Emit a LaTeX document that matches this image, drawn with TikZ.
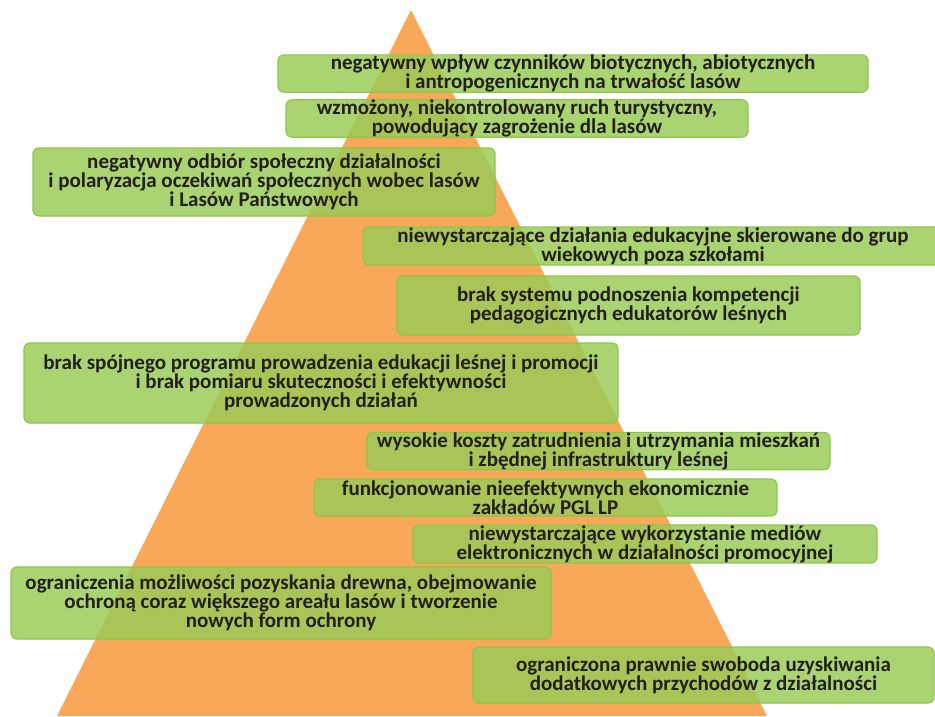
\documentclass[tikz,border=0pt]{standalone}
\usepackage{fontspec}
\setmainfont{Carlito}
\definecolor{pyramid}{RGB}{249,167,88}
\definecolor{leaf}{RGB}{155,203,88}
\definecolor{leafedge}{RGB}{142,198,72}
\definecolor{ink}{RGB}{35,31,32}
\begin{document}
\begin{tikzpicture}[x=1pt, y=-1pt]

		% Define custom box style with semi-transparent green fill
		\tikzstyle{threat} = [rectangle, rounded corners=6pt, draw=leafedge, line width=1.2pt,
		fill=leaf, fill opacity=0.85, text opacity=1, text=ink, align=center,
		inner sep=0pt, font=\fontsize{21}{19}\selectfont\bfseries]

		\useasboundingbox (0,0) rectangle (935,716);

		% Pyramid in the background
		\fill[pyramid] (411,10) -- (767,716) -- (57,716) -- cycle;

		% Boxes from top to bottom
		\node[threat, minimum width=590pt, minimum height=37pt] (biotic) at (573,73.5)
			{negatywny wpływ czynników biotycznych, abiotycznych\\i antropogenicznych na trwałość lasów};
		\node[threat, minimum width=462pt, minimum height=37pt] (tourism) at (517,118.5)
			{wzmożony, niekontrolowany ruch turystyczny,\\powodujący zagrożenie dla lasów};
		\node[threat, minimum width=462pt, minimum height=68pt] (opinion) at (264,182)
			{negatywny odbiór społeczny działalności\\i polaryzacja oczekiwań społecznych wobec lasów\\i Lasów Państwowych};
		\node[threat, minimum width=580pt, minimum height=38pt] (agegroups) at (653,246)
			{niewystarczające działania edukacyjne skierowane do grup\\wiekowych poza szkołami};
		\node[threat, minimum width=463pt, minimum height=59pt] (educators) at (628.5,305.5)
			{brak systemu podnoszenia kompetencji\\pedagogicznych edukatorów leśnych};
		\node[threat, minimum width=594pt, minimum height=80pt] (program) at (321,383)
			{brak spójnego programu prowadzenia edukacji leśnej i promocji\\i brak pomiaru skuteczności i efektywności\\prowadzonych działań};
		\node[threat, minimum width=463pt, minimum height=36pt] (housing) at (598.5,451)
			{wysokie koszty zatrudnienia i utrzymania mieszkań\\i zbędnej infrastruktury leśnej};
		\node[threat, minimum width=463pt, minimum height=37pt] (plants) at (545.5,497.5)
			{funkcjonowanie nieefektywnych ekonomicznie\\zakładów PGL LP};
		\node[threat, minimum width=464pt, minimum height=38pt] (media) at (645,544)
			{niewystarczające wykorzystanie mediów\\elektronicznych w działalności promocyjnej};
		\node[threat, minimum width=540pt, minimum height=72pt] (timber) at (281,603)
			{ograniczenia możliwości pozyskania drewna, obejmowanie\\ochroną coraz większego areału lasów i tworzenie\\nowych form ochrony};
		\node[threat, minimum width=461pt, minimum height=56pt] (income) at (703.5,675)
			{ograniczona prawnie swoboda uzyskiwania\\dodatkowych przychodów z działalności};

	\end{tikzpicture}
\end{document}
